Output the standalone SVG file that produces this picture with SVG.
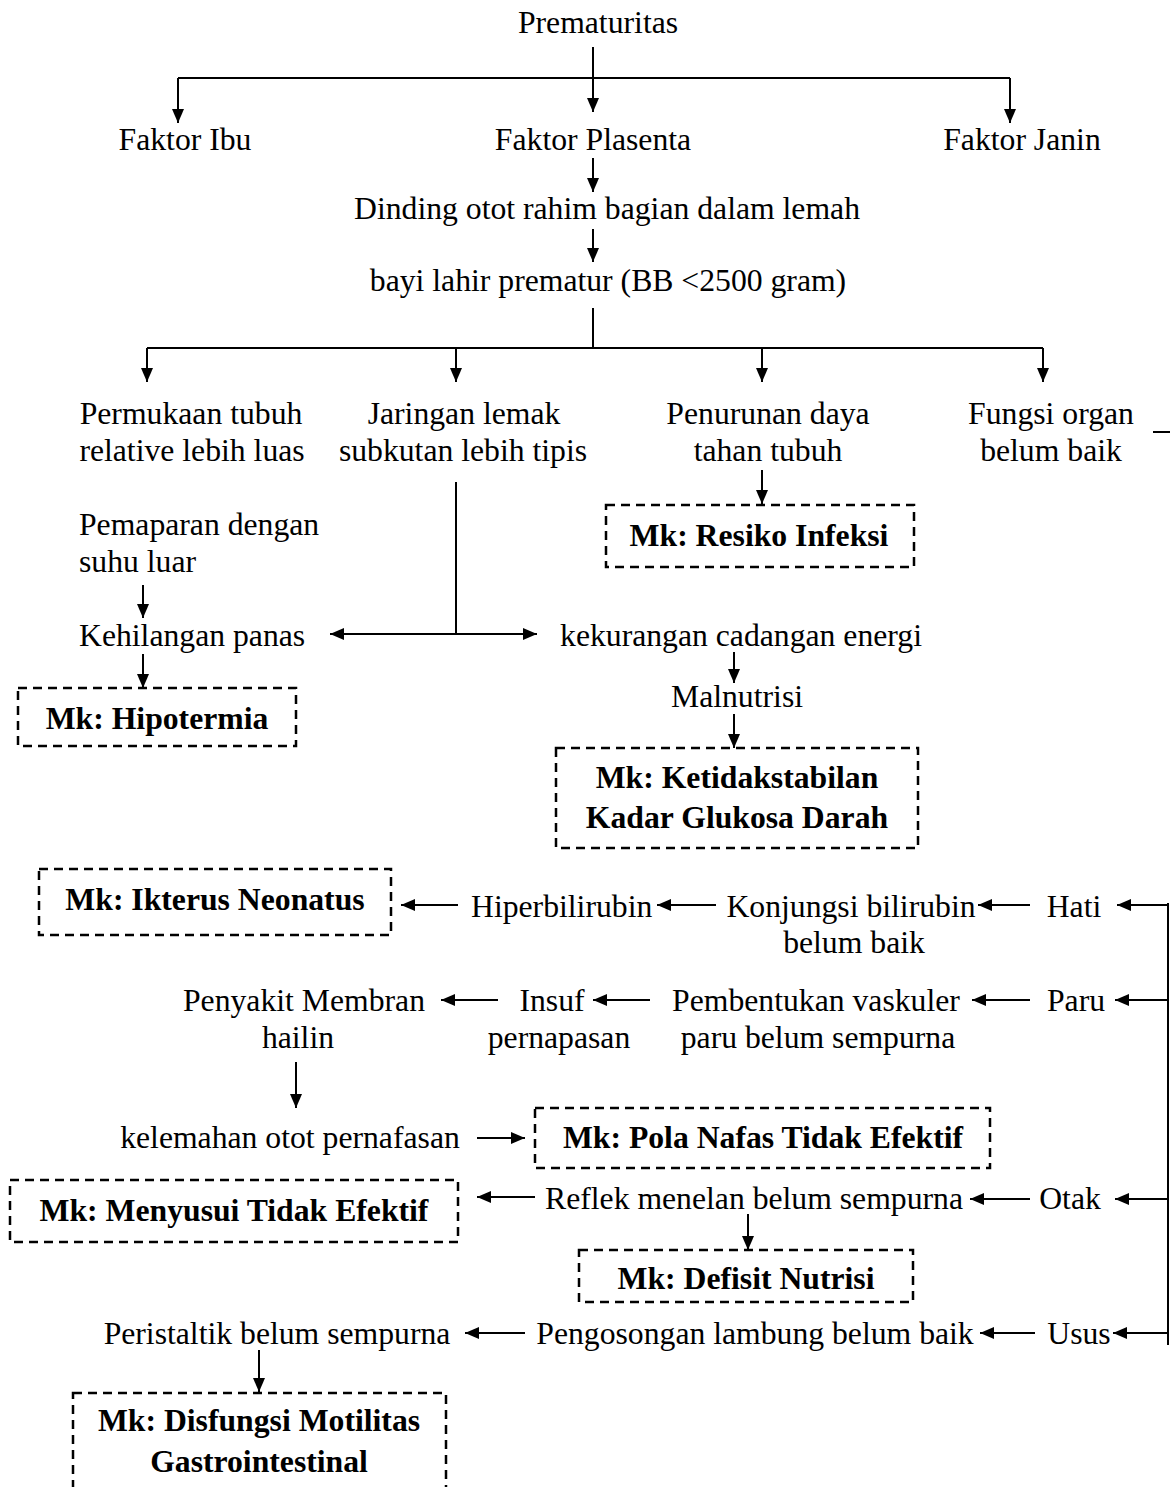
<svg xmlns="http://www.w3.org/2000/svg" width="1170" height="1487" viewBox="0 0 1170 1487">
<style>
text{font-family:"Liberation Serif","Times New Roman",serif;font-size:31.7px;fill:#000}
.c{text-anchor:middle}
.b{font-weight:bold}
.box{fill:none;stroke:#000;stroke-width:2.5;stroke-dasharray:9,6}
.ln{fill:none;stroke:#000;stroke-width:2}
.ar{fill:none;stroke:#000;stroke-width:2;marker-end:url(#ah)}
.ar2{fill:none;stroke:#000;stroke-width:2;marker-end:url(#ah);marker-start:url(#as)}
</style>
<defs>
<marker id="ah" viewBox="0 0 14 12" refX="14" refY="6" markerWidth="14" markerHeight="12" orient="auto" markerUnits="userSpaceOnUse"><path d="M0,0 L14,6 L0,12 z" fill="#000"/></marker>
<marker id="as" viewBox="0 0 14 12" refX="0" refY="6" markerWidth="14" markerHeight="12" orient="auto" markerUnits="userSpaceOnUse"><path d="M14,0 L0,6 L14,12 z" fill="#000"/></marker>
</defs>
<rect width="1170" height="1487" fill="#fff"/>
<g id="connectors">
<path class="ar" d="M593,47 V112"/>
<path class="ln" d="M178,78 H1010"/>
<path class="ar" d="M178,78 V123"/>
<path class="ar" d="M1010,78 V123"/>
<path class="ar" d="M593,158 V192"/>
<path class="ar" d="M593,229 V262"/>
<path class="ln" d="M593,308 V348"/>
<path class="ln" d="M147,348 H1043"/>
<path class="ar" d="M147,348 V382"/>
<path class="ar" d="M456,348 V382"/>
<path class="ar" d="M762,348 V382"/>
<path class="ar" d="M1043,348 V382"/>
<path class="ln" d="M1153,432 H1170"/>
<path class="ar" d="M762,470 V504"/>
<path class="ln" d="M456,482 V634"/>
<path class="ar2" d="M330,634 H537"/>
<path class="ar" d="M143,585 V618"/>
<path class="ar" d="M143,654 V688"/>
<path class="ar" d="M734,652 V683"/>
<path class="ar" d="M734,714 V748"/>
<path class="ln" d="M1168,903 V1345"/>
<path class="ar" d="M1168,905 H1117"/>
<path class="ar" d="M1030,905 H978"/>
<path class="ar" d="M716,905 H657"/>
<path class="ar" d="M458,905 H401"/>
<path class="ar" d="M1168,1000 H1115"/>
<path class="ar" d="M1030,1000 H972"/>
<path class="ar" d="M650,1000 H593"/>
<path class="ar" d="M498,1000 H441"/>
<path class="ar" d="M296,1062 V1108"/>
<path class="ar" d="M477,1138 H525"/>
<path class="ar" d="M1168,1199 H1115"/>
<path class="ar" d="M1030,1199 H970"/>
<path class="ar" d="M535,1197 H477"/>
<path class="ar" d="M748,1214 V1250"/>
<path class="ar" d="M1168,1333 H1113"/>
<path class="ar" d="M1035,1333 H980"/>
<path class="ar" d="M525,1333 H465"/>
<path class="ar" d="M259,1350 V1392"/>
</g>
<g id="n-prematuritas"><text class="c" x="598" y="33">Prematuritas</text></g>
<g id="n-ibu"><text class="c" x="185" y="150">Faktor Ibu</text></g>
<g id="n-plasenta"><text class="c" x="593" y="150">Faktor Plasenta</text></g>
<g id="n-janin"><text class="c" x="1022" y="150">Faktor Janin</text></g>
<g id="n-dinding"><text class="c" x="607" y="219">Dinding otot rahim bagian dalam lemah</text></g>
<g id="n-bayi"><text class="c" x="608" y="291">bayi lahir prematur (BB &lt;2500 gram)</text></g>
<g id="n-permukaan"><text class="c" x="191" y="424">Permukaan tubuh</text><text class="c" x="192" y="461">relative lebih luas</text></g>
<g id="n-jaringan"><text class="c" x="464" y="424">Jaringan lemak</text><text class="c" x="463" y="461">subkutan lebih tipis</text></g>
<g id="n-penurunan"><text class="c" x="768" y="424">Penurunan daya</text><text class="c" x="768" y="461">tahan tubuh</text></g>
<g id="n-fungsi"><text class="c" x="1051" y="424">Fungsi organ</text><text class="c" x="1051" y="461">belum baik</text></g>
<g id="n-pemaparan"><text x="79" y="535">Pemaparan dengan</text><text x="79" y="572">suhu luar</text></g>
<g id="n-kehilangan"><text x="79" y="646">Kehilangan panas</text></g>
<g id="n-hipotermia"><rect class="box" x="18" y="688" width="278" height="58"/><text class="c b" x="157" y="729">Mk: Hipotermia</text></g>
<g id="n-resiko"><rect class="box" x="606" y="505" width="308" height="62"/><text class="c b" x="759" y="546">Mk: Resiko Infeksi</text></g>
<g id="n-kekurangan"><text class="c" x="741" y="646">kekurangan cadangan energi</text></g>
<g id="n-malnutrisi"><text class="c" x="737" y="707">Malnutrisi</text></g>
<g id="n-glukosa"><rect class="box" x="556" y="748" width="362" height="100"/><text class="c b" x="737" y="788">Mk: Ketidakstabilan</text><text class="c b" x="737" y="828">Kadar Glukosa Darah</text></g>
<g id="n-ikterus"><rect class="box" x="39" y="869" width="352" height="66"/><text class="c b" x="215" y="910">Mk: Ikterus Neonatus</text></g>
<g id="n-hiperbilirubin"><text x="471" y="917">Hiperbilirubin</text></g>
<g id="n-konjungsi"><text class="c" x="851" y="917">Konjungsi bilirubin</text><text class="c" x="854" y="953">belum baik</text></g>
<g id="n-hati"><text class="c" x="1074" y="917">Hati</text></g>
<g id="n-penyakit"><text class="c" x="304" y="1011">Penyakit Membran</text><text class="c" x="298" y="1048">hailin</text></g>
<g id="n-insuf"><text class="c" x="552" y="1011">Insuf</text><text class="c" x="559" y="1048">pernapasan</text></g>
<g id="n-pembentukan"><text class="c" x="816" y="1011">Pembentukan vaskuler</text><text class="c" x="818" y="1048">paru belum sempurna</text></g>
<g id="n-paru"><text class="c" x="1076" y="1011">Paru</text></g>
<g id="n-kelemahan"><text class="c" x="290" y="1148">kelemahan otot pernafasan</text></g>
<g id="n-pola"><rect class="box" x="535" y="1108" width="455" height="60"/><text class="c b" x="763" y="1148">Mk: Pola Nafas Tidak Efektif</text></g>
<g id="n-menyusui"><rect class="box" x="10" y="1180" width="448" height="62"/><text class="c b" x="234" y="1221">Mk: Menyusui Tidak Efektif</text></g>
<g id="n-reflek"><text class="c" x="754" y="1209">Reflek menelan belum sempurna</text></g>
<g id="n-otak"><text class="c" x="1070" y="1209">Otak</text></g>
<g id="n-defisit"><rect class="box" x="579" y="1250" width="334" height="52"/><text class="c b" x="746" y="1289">Mk: Defisit Nutrisi</text></g>
<g id="n-peristaltik"><text class="c" x="277" y="1344">Peristaltik belum sempurna</text></g>
<g id="n-pengosongan"><text class="c" x="755" y="1344">Pengosongan lambung belum baik</text></g>
<g id="n-usus"><text class="c" x="1079" y="1344">Usus</text></g>
<g id="n-disfungsi"><rect class="box" x="73" y="1393" width="373" height="110"/><text class="c b" x="259" y="1431">Mk: Disfungsi Motilitas</text><text class="c b" x="259" y="1472">Gastrointestinal</text></g>
</svg>
